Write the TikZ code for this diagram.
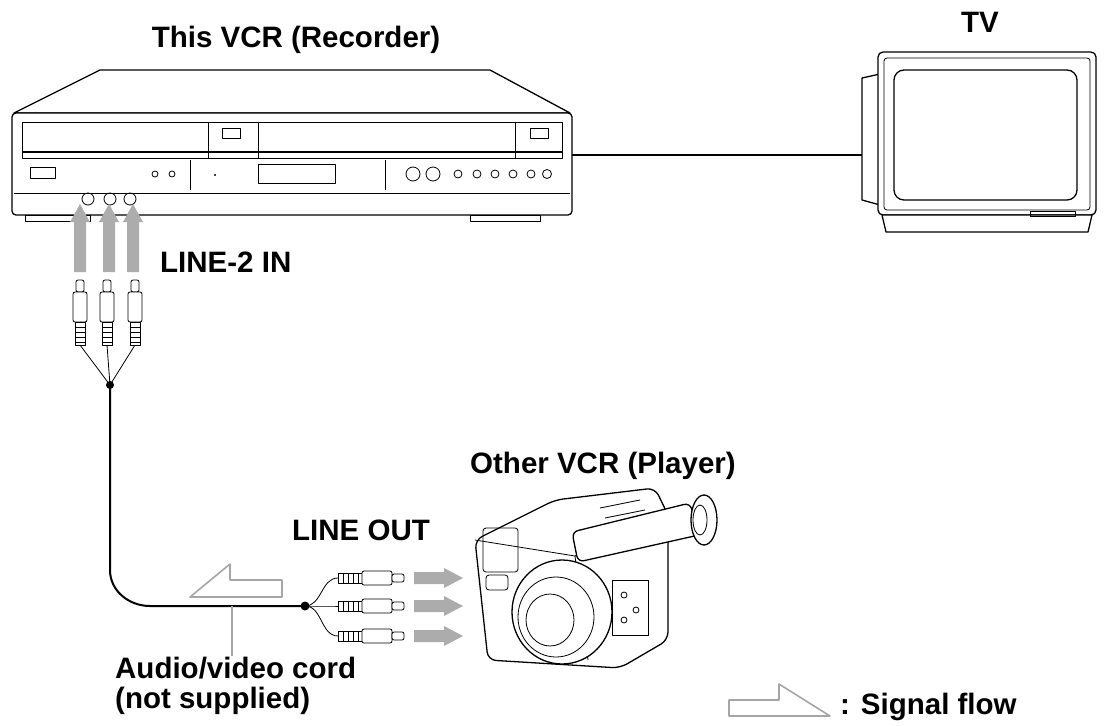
\documentclass[tikz,border=0pt]{standalone}
\usepackage{fontspec}
\setmainfont{Liberation Sans}
\begin{document}
\begin{tikzpicture}[x=1pt,y=-1pt,line join=round,
  lbl/.style={font=\bfseries\fontsize{29.5}{32}\selectfont,inner sep=0},
  ln/.style={draw=black,line width=1.3pt},
  thin/.style={draw=black,line width=0.8pt},
  garrow/.style={draw=none,fill=gray!65},
  plug/.style={draw=black,line width=0.8pt,fill=white}]
\useasboundingbox (0,0) rectangle (1112,726);
% ---- VCR
\draw[ln,fill=white] (14,113) -- (100,70) -- (490,70) -- (570,113) -- cycle;
\draw[ln,fill=white,rounded corners=4] (12,113) rectangle (572,215);
\draw[thin] (14,193) -- (570,193);
\draw[thin] (22,122) rectangle (562,158);
\draw[ln] (22,152) -- (562,152);
\draw[thin] (208,122) -- (208,158) (258,122) -- (258,158) (515,122) -- (515,158);
\draw[thin] (222,128) rectangle (240,138) (530,128) rectangle (548,138);
\draw[thin] (30,167) rectangle (55,178);
\draw[thin] (190,160) -- (190,190) (385,160) -- (385,190);
\draw[thin] (258,164) rectangle (335,183);
\fill (215,175) circle (1.2);
\draw[thin] (155,174) circle (3) (172,174) circle (3);
\draw[thin] (413,174) circle (7) (433,174) circle (7);
\foreach \x in {458,477,495,513,531}{\draw[thin] (\x,174) circle (4);}
\draw[thin] (547,174) circle (4.5);
\draw[thin,fill=white] (25,215) rectangle (90,221) (470,215) rectangle (540,221);
\foreach \x/\n in {88/ja,110/jb,130/jc}{\node[draw,circle,minimum size=12pt,inner sep=0,line width=0.8pt] (\n) at (\x,199) {};}
% gray up arrows
\foreach \x in {80,109,133}{
  \fill[garrow] (\x-6,272) -- (\x-6,222) -- (\x-10,222) -- (\x,204) -- (\x+10,222) -- (\x+6,222) -- (\x+6,272) -- cycle;}
% plugs vertical
\foreach \x in {80,107,135}{
  \draw[plug,rounded corners=2] (\x-4,280) rectangle (\x+4,292);
  \draw[plug,rounded corners=2] (\x-7,292) rectangle (\x+7,322);
  \draw[plug] (\x-5,322) rectangle (\x+5,345);
  \foreach \yy in {327,332,337,342}{\draw[thin] (\x-5,\yy) -- (\x+5,\yy);}
}
\coordinate (hubA) at (110,385);
\draw[thin] (80,345) -- (hubA) (107,345) -- (hubA) (135,345) -- (hubA);
\fill (hubA) circle (4);
% main cable
\coordinate (hubB) at (305,606);
\draw[line width=2pt] (hubA) -- (110,570) to[out=-90,in=180] (150,606) -- (hubB);
\fill (hubB) circle (4.5);
% horizontal plugs
\foreach \y in {578,606,636}{
  \draw[thin] (hubB) to[out=0,in=180] (338,\y);
  \draw[plug] (338,\y-5) rectangle (362,\y+5);
  \foreach \xx in {343,348,353,358}{\draw[thin] (\xx,\y-5) -- (\xx,\y+5);}
  \draw[plug,rounded corners=2] (362,\y-7) rectangle (392,\y+7);
  \draw[plug,rounded corners=2] (392,\y-4) rectangle (404,\y+4);
  \fill[garrow] (414,\y-6) -- (444,\y-6) -- (444,\y-10) -- (463,\y) -- (444,\y+10) -- (444,\y+6) -- (414,\y+6) -- cycle;
}
% hollow flow arrow
\draw[draw=gray!70,line width=1.6pt,fill=white] (190,597) -- (230,564) -- (230,580) -- (282,580) -- (282,597) -- cycle;
\coordinate (ptr) at (232,656);
\draw[gray!70,line width=1.6pt] (232,606) -- (ptr);
% ---- TV
\coordinate (vcrR) at (572,155);
\draw[line width=2pt] (vcrR) -- (864,155);
\draw[ln,fill=white] (862,78) -- (880,74) -- (880,205) -- (862,200) -- cycle;
\draw[ln,fill=white,rounded corners=5] (878,52) rectangle (1096,215);
\draw[thin,rounded corners=3] (884,58) rectangle (1090,210);
\draw[ln,rounded corners=10] (894,70) rectangle (1077,200);
\draw[ln,fill=white] (882,215) -- (1092,215) -- (1088,232) -- (886,232) -- cycle;
\draw[thin] (1030,211) rectangle (1075,216);
% ---- Camera
\draw[ln,fill=white,rounded corners=8] (475,540) -- (555,500) -- (655,488) -- (668,515) -- (668,640) -- (620,668) -- (488,660) -- cycle;
\draw[thin] (475,540) -- (575,556) -- (668,515);
\draw[thin] (575,556) -- (588,660);
\draw[thin,rounded corners=3] (483,528) rectangle (518,572);
\draw[ln,fill=white,rounded corners=6] (572,532) -- (690,503) -- (699,535) -- (578,562) -- cycle;
\draw[ln,fill=white] (704,520) ellipse (13 and 25);
\draw[thin] (700,520) ellipse (7 and 15);
\draw[thin] (600,508) -- (640,500) (605,518) -- (645,510);
\draw[ln,fill=white] (562,612) ellipse (50 and 52);
\draw[thin] (556,617) ellipse (38 and 40);
\draw[thin] (550,620) ellipse (24 and 26);
\draw[thin,fill=white] (612,580) rectangle (648,635);
\draw[thin] (624,595) circle (3) (636,610) circle (3) (624,620) circle (3);
\draw[thin,rounded corners=3] (486,575) rectangle (508,590);
% ---- legend
\coordinate (lgR) at (830,716);
\draw[draw=gray!70,line width=1.6pt,fill=white] (729,700) -- (779,700) -- (779,684) -- (lgR) -- (729,716) -- cycle;
% ---- labels
\node[lbl] (t1) at (296,40) {This VCR (Recorder)};
\node[lbl] (t2) at (980,22) {TV};
\node[lbl,anchor=west] (t3) at (160,262) {LINE-2 IN};
\node[lbl,anchor=west] (t4) at (470,466) {Other VCR (Player)};
\node[lbl,anchor=west] (t5) at (292,530) {LINE OUT};
\node[lbl,anchor=west] (t6) at (115,668) {Audio/video cord};
\node[lbl,anchor=west] (t7) at (115,701) {(not supplied)};
\node[lbl,anchor=west] (t8) at (840,707) {: Signal flow};
\end{tikzpicture}
\end{document}
